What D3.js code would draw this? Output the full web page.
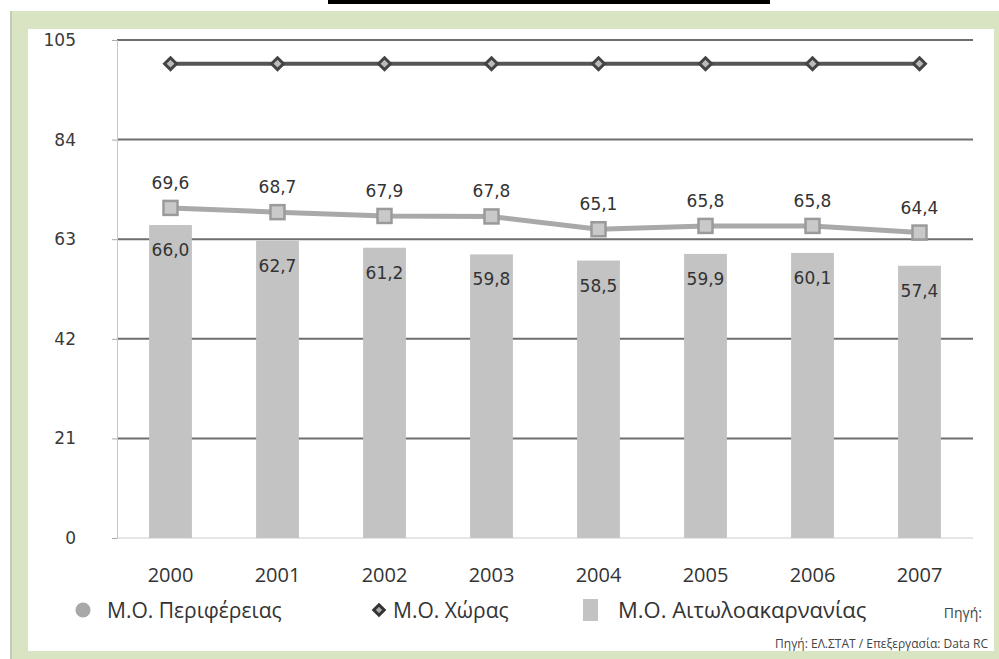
<!DOCTYPE html>
<html>
<head>
<meta charset="utf-8">
<script src="https://cdn.jsdelivr.net/npm/d3@7"></script>
<style>
  body { margin: 0; background: #fff; }
  svg { display: block; }
</style>
</head>
<body>
<div id="chart"></div>
<script>
// data
const years = ["2000", "2001", "2002", "2003", "2004", "2005", "2006", "2007"];
const perifereia = [69.6, 68.7, 67.9, 67.8, 65.1, 65.8, 65.8, 64.4];
const xora = [100, 100, 100, 100, 100, 100, 100, 100];
const aitoloakarnania = [66.0, 62.7, 61.2, 59.8, 58.5, 59.9, 60.1, 57.4];
const yTicks = [0, 21, 42, 63, 84, 105];

const fmt = v => v.toFixed(1).replace(".", ",");

const width = 999;
const height = 659;
const margin = { top: 40, right: 26, bottom: 121, left: 117 };

const svg = d3.select("#chart")
  .append("svg")
  .attr("width", width)
  .attr("height", height);

// frame
svg.append("rect").attr("x", 328).attr("y", 0).attr("width", 442).attr("height", 4).attr("fill", "#000");
svg.append("rect").attr("x", 11).attr("y", 11).attr("width", 988).attr("height", 648).attr("fill", "#d9e5c2");
svg.append("rect").attr("x", 10).attr("y", 11).attr("width", 2).attr("height", 648).attr("fill", "#c4ccb8");
svg.append("rect").attr("x", 28).attr("y", 29).attr("width", 966).attr("height", 622).attr("fill", "#fff");

const x = d3.scaleBand()
  .domain(years)
  .range([margin.left, width - margin.right])
  .paddingInner(0.6)
  .paddingOuter(0.3);

const y = d3.scaleLinear()
  .domain([0, 105])
  .range([height - margin.bottom, margin.top]);

// grid lines
svg.append("g")
  .selectAll("line")
  .data(yTicks.filter(d => d > 0))
  .enter()
  .append("line")
  .attr("x1", margin.left)
  .attr("x2", width - margin.right)
  .attr("y1", d => y(d))
  .attr("y2", d => y(d))
  .attr("stroke", "#6e6e6e")
  .attr("stroke-width", 2);

// y axis
const yAxis = svg.append("g")
  .attr("transform", `translate(${margin.left},0)`)
  .call(d3.axisLeft(y).tickValues(yTicks).tickSize(5).tickPadding(36));
yAxis.select(".domain").attr("stroke", "#c8c8c8");
yAxis.selectAll(".tick line").attr("stroke", "#aaa");
yAxis.selectAll("text")
  .style("font-family", "'DejaVu Sans', sans-serif")
  .style("font-size", "17px")
  .attr("fill", "#3a3a3a");

// baseline
svg.append("line")
  .attr("x1", margin.left)
  .attr("x2", width - margin.right)
  .attr("y1", y(0))
  .attr("y2", y(0))
  .attr("stroke", "#ccc")
  .attr("stroke-width", 1);

// x axis labels
const xAxis = svg.append("g")
  .attr("transform", `translate(0,${y(0)})`)
  .call(d3.axisBottom(x).tickSize(0).tickPadding(30));
xAxis.select(".domain").remove();
xAxis.selectAll("text")
  .style("font-family", "'Liberation Sans Narrow', 'Open Sans', sans-serif")
  .style("font-size", "20px")
  .attr("fill", "#333");

// bars
svg.selectAll("rect.bar")
  .data(aitoloakarnania)
  .enter()
  .append("rect")
  .attr("class", "bar")
  .attr("x", (d, i) => x(years[i]))
  .attr("y", d => y(d))
  .attr("width", x.bandwidth())
  .attr("height", d => y(0) - y(d))
  .attr("fill", "#c3c3c3");

const cx = i => x(years[i]) + x.bandwidth() / 2;

const line = d3.line()
  .x((d, i) => cx(i))
  .y(d => y(d));

// Χώρας line
svg.append("path")
  .datum(xora)
  .attr("fill", "none")
  .attr("stroke", "#555")
  .attr("stroke-width", 4)
  .attr("d", line);

svg.selectAll("path.diamond")
  .data(xora)
  .enter()
  .append("path")
  .attr("class", "diamond")
  .attr("transform", (d, i) => `translate(${cx(i)},${y(d)})`)
  .attr("d", d3.symbol(d3.symbolDiamond2, 90))
  .attr("fill", "#bbb")
  .attr("stroke", "#444")
  .attr("stroke-width", 3);

// Περιφέρειας line
svg.append("path")
  .datum(perifereia)
  .attr("fill", "none")
  .attr("stroke", "#a9a9a9")
  .attr("stroke-width", 5)
  .attr("d", line);

svg.selectAll("rect.sq")
  .data(perifereia)
  .enter()
  .append("rect")
  .attr("class", "sq")
  .attr("x", (d, i) => cx(i) - 7)
  .attr("y", d => y(d) - 7)
  .attr("width", 14)
  .attr("height", 14)
  .attr("fill", "#c9c9c9")
  .attr("stroke", "#9a9a9a")
  .attr("stroke-width", 2.5);

// value labels
const labelFont = "'DejaVu Sans', sans-serif";
svg.selectAll("text.top")
  .data(perifereia)
  .enter()
  .append("text")
  .attr("class", "top")
  .attr("x", (d, i) => cx(i))
  .attr("y", d => y(d) - 19)
  .attr("text-anchor", "middle")
  .style("font-family", labelFont)
  .style("font-size", "17px")
  .attr("fill", "#333")
  .text(fmt);

svg.selectAll("text.bot")
  .data(aitoloakarnania)
  .enter()
  .append("text")
  .attr("class", "bot")
  .attr("x", (d, i) => cx(i))
  .attr("y", d => y(d) + 31)
  .attr("text-anchor", "middle")
  .style("font-family", labelFont)
  .style("font-size", "17px")
  .attr("fill", "#333")
  .text(fmt);

// legend
const legendFont = "'Liberation Sans Narrow', 'Open Sans', sans-serif";
const lg = svg.append("g").attr("transform", "translate(0,610)");
lg.append("path")
  .attr("transform", "translate(83,0)")
  .attr("d", d3.symbol(d3.symbolCircle, 180))
  .attr("fill", "#a8a8a8");
lg.append("text").attr("x", 107).attr("y", 8)
  .style("font-family", legendFont).style("font-size", "21px").attr("fill", "#333")
  .text("Μ.Ο. Περιφέρειας");
lg.append("path")
  .attr("transform", "translate(379,0)")
  .attr("d", d3.symbol(d3.symbolDiamond2, 70))
  .attr("fill", "#aaa")
  .attr("stroke", "#333")
  .attr("stroke-width", 3);
lg.append("text").attr("x", 393).attr("y", 8)
  .style("font-family", legendFont).style("font-size", "21px").attr("fill", "#333")
  .text("Μ.Ο. Χώρας");
lg.append("rect").attr("x", 583).attr("y", -11).attr("width", 15).attr("height", 22).attr("fill", "#c3c3c3");
lg.append("text").attr("x", 618).attr("y", 8)
  .style("font-family", legendFont).style("font-size", "22px").attr("fill", "#333")
  .text("Μ.Ο. Αιτωλοακαρνανίας");
lg.append("text").attr("x", 982).attr("y", 8)
  .attr("text-anchor", "end")
  .style("font-family", legendFont).style("font-size", "14px").attr("fill", "#444")
  .text("Πηγή:");

// source line
svg.append("text")
  .attr("x", 988).attr("y", 648)
  .attr("text-anchor", "end")
  .style("font-family", legendFont).style("font-size", "12px").attr("fill", "#444")
  .text("Πηγή: ΕΛ.ΣΤΑΤ / Επεξεργασία: Data RC");
</script>
</body>
</html>
